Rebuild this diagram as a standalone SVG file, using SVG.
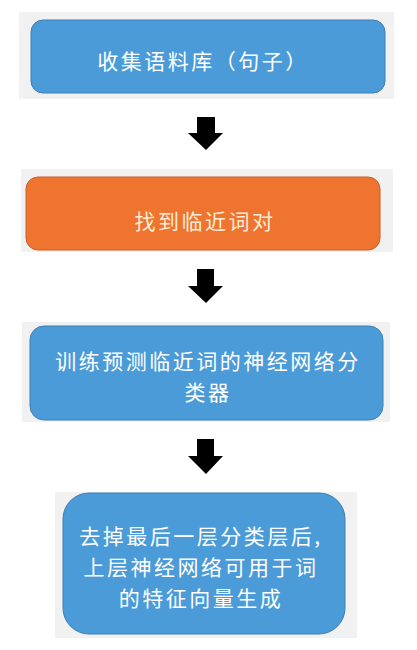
<svg xmlns="http://www.w3.org/2000/svg" width="417" height="650" viewBox="0 0 417 650">
<style>
.bg{fill:#f1f1f1}
.blue{fill:#4a9bd7;stroke:#3f7fb3;stroke-width:1}
.orange{fill:#ef7430;stroke:#c8602a;stroke-width:1}
.t{font-family:"Noto Sans CJK SC","Noto Sans",sans-serif;font-size:21px;fill:#ffffff;text-anchor:middle;letter-spacing:2.5px}
.to{fill:#fbeed8}
.arrow{fill:#000000}
</style>
<rect width="417" height="650" fill="#ffffff"/>
<g id="node1">
<rect class="bg" x="19" y="12" width="375" height="87"/>
<rect class="blue" x="31" y="20" width="354" height="73" rx="12"/>
<text class="t" x="203" y="69">收集语料库（句子）</text>
</g>
<g id="node2">
<rect class="bg" x="21" y="169" width="372" height="83"/>
<rect class="orange" x="26" y="177" width="354" height="73" rx="12"/>
<text class="t to" x="205" y="229">找到临近词对</text>
</g>
<g id="node3">
<rect class="bg" x="22" y="322" width="368" height="100"/>
<rect class="blue" x="30" y="326" width="353" height="94" rx="14"/>
<text class="t" x="208" y="369">训练预测临近词的神经网络分</text>
<text class="t" x="208" y="400">类器</text>
</g>
<g id="node4">
<rect class="bg" x="55" y="492" width="302" height="146"/>
<rect class="blue" x="63" y="493" width="282" height="141" rx="26"/>
<text class="t" x="201" y="544">去掉最后一层分类层后,</text>
<text class="t" x="201" y="575">上层神经网络可用于词</text>
<text class="t" x="201" y="606">的特征向量生成</text>
</g>
<g id="connectors">
<polygon class="arrow" points="197,117 215,117 215,133 223,133 206,150 188,133 197,133"/>
<polygon class="arrow" points="197,269 214,269 214,286 223,286 206,303 188,286 197,286"/>
<polygon class="arrow" points="197,439 214,439 214,456 223,456 206,474 188,456 197,456"/>
</g>
</svg>
